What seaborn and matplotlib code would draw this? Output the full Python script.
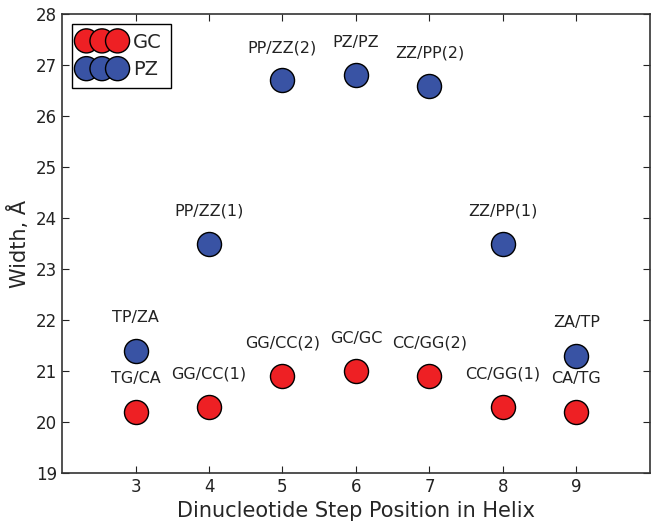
import matplotlib
matplotlib.use("Agg")
import matplotlib.pyplot as plt
import seaborn as sns
import pandas as pd

# data
positions = [3, 4, 5, 6, 7, 8, 9]
gc_width = [20.2, 20.3, 20.9, 21.0, 20.9, 20.3, 20.2]
pz_width = [21.4, 23.5, 26.7, 26.8, 26.6, 23.5, 21.3]
gc_labels = ["TG/CA", "GG/CC(1)", "GG/CC(2)", "GC/GC", "CC/GG(2)", "CC/GG(1)", "CA/TG"]
pz_labels = ["TP/ZA", "PP/ZZ(1)", "PP/ZZ(2)", "PZ/PZ", "ZZ/PP(2)", "ZZ/PP(1)", "ZA/TP"]

sns.set_style("ticks")
plt.rcParams["font.family"] = ["DejaVu Sans"]

df_gc = pd.DataFrame({"pos": positions, "width": gc_width, "label": gc_labels})
df_pz = pd.DataFrame({"pos": positions, "width": pz_width, "label": pz_labels})

fig = plt.figure(figsize=(6.61, 5.27), dpi=100)
ax = fig.add_axes([0.094, 0.1025, 0.889, 0.8705])

sns.scatterplot(data=df_gc, x="pos", y="width", color="#ee2024", s=300,
                edgecolor="black", linewidth=1, label="GC", ax=ax, zorder=3)
sns.scatterplot(data=df_pz, x="pos", y="width", color="#3953a4", s=300,
                edgecolor="black", linewidth=1, label="PZ", ax=ax, zorder=3)

# text labels above each point
for d in (df_gc, df_pz):
    for _, r in d.iterrows():
        ax.text(r["pos"], r["width"] + 0.5, r["label"], ha="center", va="bottom",
                fontsize=11.5, color="#222222")

ax.set_xlim(2, 10)
ax.set_ylim(19, 28)
ax.set_xticks(positions)
ax.set_yticks(range(19, 29))
ax.tick_params(direction="in", top=True, right=True, labelsize=12, length=5,
               colors="#222222")
for sp in ax.spines.values():
    sp.set_color("#333333")
    sp.set_linewidth(1.2)

ax.set_xlabel("Dinucleotide Step Position in Helix", fontsize=15)
ax.set_ylabel("Width, Å", fontsize=15)

leg = ax.legend(loc="upper left", scatterpoints=3, scatteryoffsets=[0.5],
                fontsize=14, fancybox=False, framealpha=1, edgecolor="black",
                borderaxespad=0.5, handletextpad=0.5, labelspacing=0.45,
                borderpad=0.45, handlelength=2.2)
leg.get_frame().set_linewidth(1)

fig.savefig("out.png", dpi=100)
